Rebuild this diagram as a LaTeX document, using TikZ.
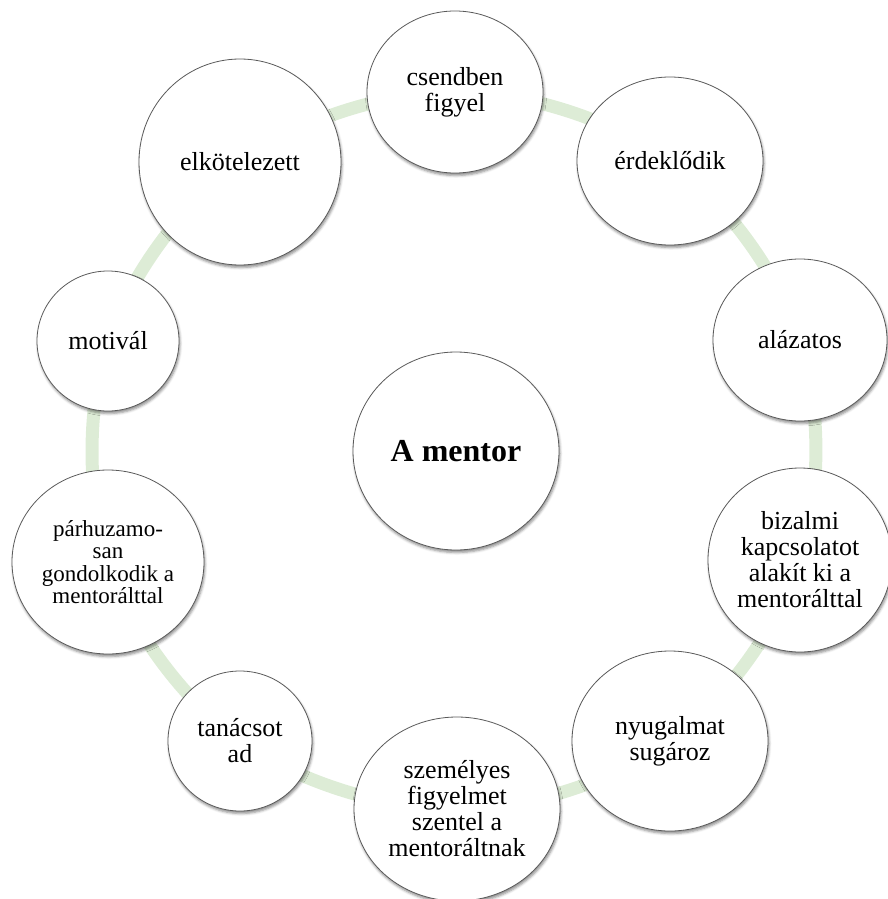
\documentclass[tikz,border=0pt]{standalone}
\usepackage{fontspec}
\setmainfont{Liberation Serif}
\usetikzlibrary{shapes.geometric,shadows.blur,backgrounds}
\definecolor{ringgreen}{RGB}{221,236,214}
\definecolor{edgegray}{RGB}{90,90,90}
\tikzset{
  bubble/.style={ellipse, draw=edgegray, line width=0.8pt, fill=white, inner sep=0pt,
    align=center, font=\fontsize{26}{26}\selectfont,
    blur shadow={shadow xshift=1pt, shadow yshift=-2.5pt, shadow blur radius=2.5pt, shadow opacity=45}},
  ring/.style={draw=ringgreen, line width=13pt, bend left=18, looseness=0.8},
}
\begin{document}
\begin{tikzpicture}[x=1pt,y=-1pt]
\useasboundingbox (0,0) rectangle (888,899);
\node[bubble, minimum width=176pt, minimum height=162pt] (cs) at (455,92) {csendben\\figyel};
\node[bubble, minimum width=186pt, minimum height=168pt] (er) at (670,161) {érdeklődik};
\node[bubble, minimum width=174pt, minimum height=162pt] (al) at (800,340) {alázatos};
\node[bubble, minimum width=184pt, minimum height=184pt] (bi) at (800,560) {bizalmi\\kapcsolatot\\alakít ki a\\mentorálttal};
\node[bubble, minimum width=196pt, minimum height=180pt] (ny) at (670,741) {nyugalmat\\sugároz};
\node[bubble, minimum width=206pt, minimum height=184pt] (sz) at (457,809) {személyes\\figyelmet\\szentel a\\mentoráltnak};
\node[bubble, minimum width=144pt, minimum height=140pt] (ta) at (240,741) {tanácsot\\ad};
\node[bubble, minimum width=192pt, minimum height=184pt, font=\fontsize{23}{22.5}\selectfont] (pa) at (108,562) {párhuzamo-\\san\\gondolkodik a\\mentorálttal};
\node[bubble, minimum width=142pt, minimum height=140pt] (mo) at (108,341) {motivál};
\node[bubble, minimum width=202pt, minimum height=206pt] (el) at (240,162) {elkötelezett};
\node[bubble, minimum width=206pt, minimum height=198pt, font=\fontsize{32}{32}\selectfont\bfseries] (ce) at (456,451) {A mentor};
\begin{pgfonlayer}{background}
\draw[ring] (cs.center) to (er.center);
\draw[ring] (er.center) to (al.center);
\draw[ring] (al.center) to (bi.center);
\draw[ring] (bi.center) to (ny.center);
\draw[ring] (ny.center) to (sz.center);
\draw[ring] (sz.center) to (ta.center);
\draw[ring] (ta.center) to (pa.center);
\draw[ring] (pa.center) to (mo.center);
\draw[ring] (mo.center) to (el.center);
\draw[ring] (el.center) to (cs.center);
\end{pgfonlayer}
\end{tikzpicture}
\end{document}
